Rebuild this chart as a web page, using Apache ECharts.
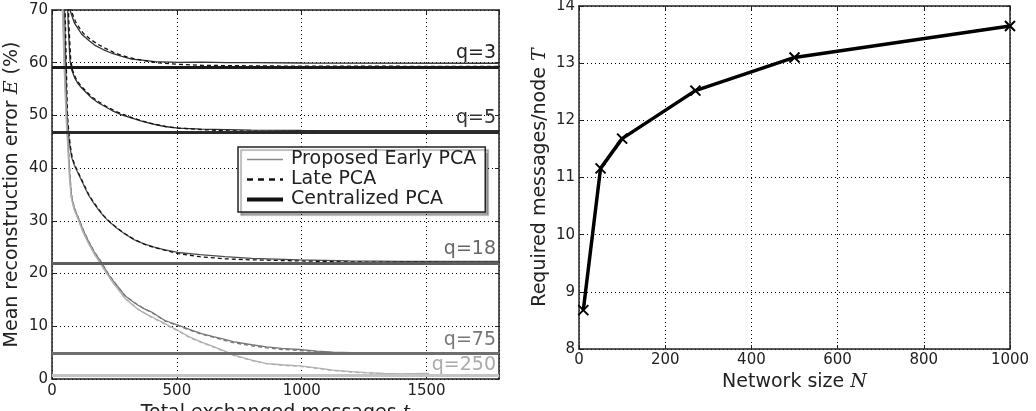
<!DOCTYPE html>
<html>
<head>
<meta charset="utf-8">
<script src="https://cdn.jsdelivr.net/npm/echarts@6/dist/echarts.min.js"></script>
<style>
  html, body { margin: 0; padding: 0; background: #fff; }
  #chart { width: 1036px; height: 411px; }
</style>
</head>
<body>
<div id="chart"></div>
<script>
// left panel: reconstruction error vs exchanged messages, one pair of curves per q
var qNames = ['q=3', 'q=5', 'q=18', 'q=75', 'q=250'];
var centralValues = [59.2, 46.9, 22.0, 4.8, 0.7];
var qColors = ['#333333', '#333333', '#4d4d4d', '#777777', '#b0b0b0'];
var centralColors = ['#1a1a1a', '#2a2a2a', '#5e5e5e', '#6e6e6e', '#c4c4c4'];
var labelColors = ['#222222', '#333333', '#666666', '#777777', '#aaaaaa'];

var earlyQ3 = [[60, 76], [72, 70], [90, 67.5], [105, 66.4], [119, 65.4], [150, 64.1], [172, 63.3], [205, 62.5], [239, 61.8],
  [280, 61.2], [319, 60.7], [360, 60.5], [412, 60.2], [505, 60.05], [600, 60.1], [700, 60.0], [800, 60.0], [1000, 59.95], [1790, 59.9]];
var lateQ3 = [[64, 76], [76, 70], [94, 67.8], [110, 66.6], [125, 65.6], [155, 64.4], [180, 63.6], [210, 62.8], [245, 62.0],
  [285, 61.3], [325, 60.8], [370, 60.4], [420, 60.0], [505, 59.7], [600, 59.5], [800, 59.4], [1000, 59.35], [1790, 59.3]];

var earlyQ5 = [[59, 76], [65, 67], [72, 60.5], [79, 58.6], [92, 57.0], [105, 56.0], [119, 55.2], [140, 54.2], [159, 53.3], [185, 52.4],
  [212, 51.7], [245, 50.8], [279, 50.1], [320, 49.5], [359, 48.9], [400, 48.4], [452, 47.9], [505, 47.6], [600, 47.4], [700, 47.3],
  [800, 47.2], [1000, 47.15], [1790, 47.1]];
var lateQ5 = [[62, 76], [68, 67], [75, 60.5], [82, 58.6], [95, 57.1], [108, 56.1], [122, 55.3], [143, 54.3], [163, 53.4], [190, 52.5],
  [218, 51.7], [250, 50.9], [285, 50.2], [325, 49.5], [365, 48.9], [405, 48.4], [455, 47.9], [505, 47.6], [600, 47.3], [700, 47.1],
  [800, 47.0], [1000, 46.95], [1790, 46.9]];

var earlyQ18 = [[48, 76], [55, 60], [60, 50], [66, 46.5], [72, 44.0], [79, 42.0], [90, 40.5], [105, 39.0], [125, 37.0], [145, 35.0],
  [165, 33.5], [185, 32.2], [205, 31.0], [225, 30.0], [260, 28.6], [292, 27.5], [330, 26.4], [372, 25.6], [410, 25.0], [452, 24.5],
  [505, 24.0], [592, 23.6], [692, 23.2], [800, 22.9], [992, 22.6], [1192, 22.4], [1400, 22.3], [1790, 22.3]];
var lateQ18 = [[50, 76], [57, 60], [62, 50], [68, 46.5], [74, 44.0], [81, 42.0], [92, 40.5], [107, 39.0], [127, 37.0], [147, 35.0],
  [167, 33.5], [187, 32.2], [207, 31.0], [227, 30.0], [262, 28.6], [294, 27.5], [332, 26.4], [374, 25.5], [412, 24.9], [455, 24.4],
  [505, 23.8], [592, 23.2], [692, 22.8], [800, 22.6], [992, 22.4], [1192, 22.2], [1790, 22.1]];

var earlyQ75 = [[40, 76], [50, 60], [58, 50], [65, 44], [72, 38], [79, 34.4], [90, 32.3], [105, 30.6], [125, 28.2], [145, 26.2],
  [170, 24.0], [192, 22.5], [210, 21.1], [225, 19.9], [245, 18.6], [265, 17.4], [292, 15.8], [320, 14.8], [345, 14.0], [370, 13.3],
  [399, 12.7], [452, 11.1], [505, 10.2], [550, 9.4], [599, 8.6], [650, 8.0], [692, 7.5], [725, 7.1], [800, 6.5], [859, 6.1],
  [920, 5.8], [992, 5.6], [1060, 5.3], [1125, 5.1], [1200, 5.0], [1300, 4.95], [1790, 4.9]];
var lateQ75 = [[41, 76], [51, 60], [59, 50], [66, 44], [73, 38], [80, 34.4], [91, 32.3], [106, 30.6], [126, 28.2], [146, 26.2],
  [171, 24.0], [193, 22.5], [211, 21.1], [226, 19.9], [246, 18.6], [266, 17.4], [293, 15.8], [321, 14.8], [346, 14.0], [371, 13.3],
  [400, 12.6], [452, 11.0], [505, 10.1], [550, 9.3], [599, 8.5], [650, 7.9], [692, 7.3], [725, 6.9], [800, 6.3], [859, 5.9],
  [920, 5.6], [992, 5.4], [1060, 5.2], [1125, 5.0], [1200, 4.9], [1790, 4.85]];

var earlyQ250 = [[38, 76], [48, 60], [56, 50], [63, 44], [70, 38], [77, 34.4], [88, 32.2], [103, 30.5], [123, 28.0], [143, 26.0],
  [168, 23.8], [190, 22.2], [208, 20.8], [225, 19.6], [245, 18.2], [265, 17.0], [292, 15.3], [320, 14.2], [345, 13.2], [370, 12.5],
  [399, 11.8], [452, 10.5], [505, 9.2], [550, 8.0], [599, 7.0], [650, 6.1], [692, 5.3], [725, 4.6], [800, 3.6], [859, 2.9],
  [920, 2.7], [992, 2.5], [1060, 2.1], [1125, 1.7], [1200, 1.4], [1259, 1.2], [1330, 1.05], [1392, 0.95], [1450, 1.0], [1510, 1.05]];
var lateQ250 = [[39, 76], [49, 60], [57, 50], [64, 44], [71, 38], [78, 34.4], [89, 32.2], [104, 30.5], [124, 28.0], [144, 26.0],
  [169, 23.8], [191, 22.2], [209, 20.8], [226, 19.6], [246, 18.2], [266, 17.0], [293, 15.3], [321, 14.2], [346, 13.2], [371, 12.5],
  [400, 11.7], [452, 10.4], [505, 9.1], [550, 7.9], [599, 6.9], [650, 6.0], [692, 5.2], [725, 4.5], [800, 3.5], [859, 2.9],
  [920, 2.6], [992, 2.4], [1060, 2.0], [1125, 1.6], [1200, 1.3], [1259, 1.15], [1330, 1.0], [1392, 0.9], [1450, 0.95], [1510, 1.0]];

var earlyCurves = [earlyQ3, earlyQ5, earlyQ18, earlyQ75, earlyQ250];
var lateCurves = [lateQ3, lateQ5, lateQ18, lateQ75, lateQ250];

// right panel: messages per node vs network size
var networkSize = [10, 50, 100, 270, 500, 1000];
var messagesPerNode = [8.68, 11.16, 11.68, 12.52, 13.1, 13.65];

var font = 'DejaVu Sans';
var mathFont = 'DejaVu Serif';
var tickSize = 15;
var nameSize = 19;

var myChart = echarts.init(document.getElementById('chart'));

function plain(v) { return String(v); }

function boxAxis(extra) {
    var a = {
        axisLine: {show: true, onZero: false, lineStyle: {color: '#222', width: 1.5}},
        axisTick: {show: true, inside: true, length: 4, lineStyle: {color: '#222'}},
        axisLabel: {show: false},
        splitLine: {show: false}
    };
    for (var k in extra) a[k] = extra[k];
    return a;
}

function nameStyle() {
    return {fontFamily: font, fontSize: nameSize, color: '#222',
        rich: {i: {fontFamily: mathFont, fontStyle: 'italic', fontSize: nameSize, color: '#222'}}};
}

var axisLine = {show: true, onZero: false, lineStyle: {color: '#222', width: 1.5}};
var axisTick = {show: true, inside: true, length: 4, lineStyle: {color: '#222'}};
var gridLine = {show: true, lineStyle: {color: '#000', type: [1, 3], width: 1}};
var noDot = {color: 'rgba(0,0,0,0)', opacity: 0};

var series = [];

// legend-only series
series.push({name: 'Proposed Early PCA', type: 'line', xAxisIndex: 0, yAxisIndex: 0, data: [], symbol: 'none',
    lineStyle: {color: '#8a8a8a', width: 1.5}, itemStyle: noDot});
series.push({name: 'Late PCA', type: 'line', xAxisIndex: 0, yAxisIndex: 0, data: [], symbol: 'none',
    lineStyle: {color: '#111', width: 2, type: [6, 5]}, itemStyle: noDot});

// centralized PCA lines with their q labels
var centralLines = centralValues.map(function (v, i) {
    return {
        yAxis: v,
        lineStyle: {color: centralColors[i], width: 3, type: 'solid'},
        label: {show: true, position: 'insideEndTop', formatter: qNames[i], color: labelColors[i],
            fontFamily: font, fontSize: nameSize, distance: [3, i === 4 ? 1 : 4]}
    };
});
series.push({name: 'Centralized PCA', type: 'line', xAxisIndex: 0, yAxisIndex: 0, data: [], symbol: 'none',
    lineStyle: {color: '#111', width: 4}, itemStyle: noDot,
    markLine: {silent: true, symbol: 'none', animation: false, data: centralLines}});

for (var i = 0; i < qNames.length; i++) {
    series.push({
        name: qNames[i] + ' early', type: 'line', xAxisIndex: 0, yAxisIndex: 0, data: earlyCurves[i],
        symbol: 'none', clip: true,
        lineStyle: {color: qColors[i], width: 1.3}
    });
    series.push({
        name: qNames[i] + ' late', type: 'line', xAxisIndex: 0, yAxisIndex: 0, data: lateCurves[i],
        symbol: 'none', clip: true,
        lineStyle: {color: i < 3 ? '#111' : qColors[i], width: 1.3, type: [4, 3]}
    });
}

series.push({
    name: 'T', type: 'line', xAxisIndex: 2, yAxisIndex: 2,
    data: networkSize.map(function (n, i) { return [n, messagesPerNode[i]]; }),
    symbol: 'path://M0,0L10,10M10,0L0,10', symbolSize: 10, showSymbol: true,
    lineStyle: {color: '#000', width: 3.5},
    itemStyle: {color: 'rgba(0,0,0,0)', borderColor: '#000', borderWidth: 2}
});

var option = {
    animation: false,
    backgroundColor: '#fff',
    grid: [
        {left: 52, right: 537, top: 10, bottom: 32, outerBoundsMode: 'none', containLabel: false},
        {left: 579, right: 26, top: 6, bottom: 62, outerBoundsMode: 'none', containLabel: false}
    ],
    legend: {
        data: [
            {name: 'Proposed Early PCA', lineStyle: {color: '#8a8a8a', width: 1.5}},
            {name: 'Late PCA', lineStyle: {color: '#111', width: 2.5, type: [6, 5]}},
            {name: 'Centralized PCA', lineStyle: {color: '#111', width: 4}}
        ],
        orient: 'vertical',
        left: 238, top: 147,
        itemWidth: 36, itemHeight: 14, itemGap: 1,
        padding: [3, 9, 3, 7],
        backgroundColor: '#fff',
        borderColor: '#222', borderWidth: 1.5, borderRadius: 0,
        shadowColor: 'rgba(0,0,0,0.35)', shadowBlur: 1, shadowOffsetX: 3, shadowOffsetY: 3,
        itemStyle: {opacity: 0},
        textStyle: {fontFamily: font, fontSize: nameSize, color: '#222', lineHeight: 19, padding: [0, 0, 0, 3]},
        selectedMode: false
    },
    xAxis: [
        {
            type: 'value', gridIndex: 0, min: 0, max: 1790, interval: 500, position: 'bottom',
            axisLine: axisLine, axisTick: axisTick, splitLine: gridLine,
            axisLabel: {color: '#222', fontFamily: font, fontSize: tickSize, margin: 5, showMaxLabel: false, formatter: plain},
            name: 'Total exchanged messages {i|t}', nameLocation: 'middle', nameGap: 22, nameTextStyle: nameStyle()
        },
        boxAxis({type: 'value', gridIndex: 0, min: 0, max: 1790, interval: 500, position: 'top'}),
        {
            type: 'value', gridIndex: 1, min: 0, max: 1000, interval: 200, position: 'bottom',
            axisLine: axisLine, axisTick: axisTick, splitLine: gridLine,
            axisLabel: {color: '#222', fontFamily: font, fontSize: tickSize, margin: 4, formatter: plain},
            name: 'Network size {i|N}', nameLocation: 'middle', nameGap: 23, nameTextStyle: nameStyle()
        },
        boxAxis({type: 'value', gridIndex: 1, min: 0, max: 1000, interval: 200, position: 'top'})
    ],
    yAxis: [
        {
            type: 'value', gridIndex: 0, min: 0, max: 70, interval: 10, position: 'left',
            axisLine: axisLine, axisTick: axisTick, splitLine: gridLine,
            axisLabel: {color: '#222', fontFamily: font, fontSize: tickSize, margin: 4, formatter: plain},
            name: 'Mean reconstruction error {i|E} (%)', nameLocation: 'middle', nameGap: 30, nameRotate: 90,
            nameTextStyle: nameStyle()
        },
        boxAxis({type: 'value', gridIndex: 0, min: 0, max: 70, interval: 10, position: 'right'}),
        {
            type: 'value', gridIndex: 1, min: 8, max: 14, interval: 1, position: 'left',
            axisLine: axisLine, axisTick: axisTick, splitLine: gridLine,
            axisLabel: {color: '#222', fontFamily: font, fontSize: tickSize, margin: 4, formatter: plain},
            name: 'Required messages/node {i|T}', nameLocation: 'middle', nameGap: 29, nameRotate: 90,
            nameTextStyle: nameStyle()
        },
        boxAxis({type: 'value', gridIndex: 1, min: 8, max: 14, interval: 1, position: 'right'})
    ],
    series: series
};

myChart.setOption(option);
</script>
</body>
</html>
